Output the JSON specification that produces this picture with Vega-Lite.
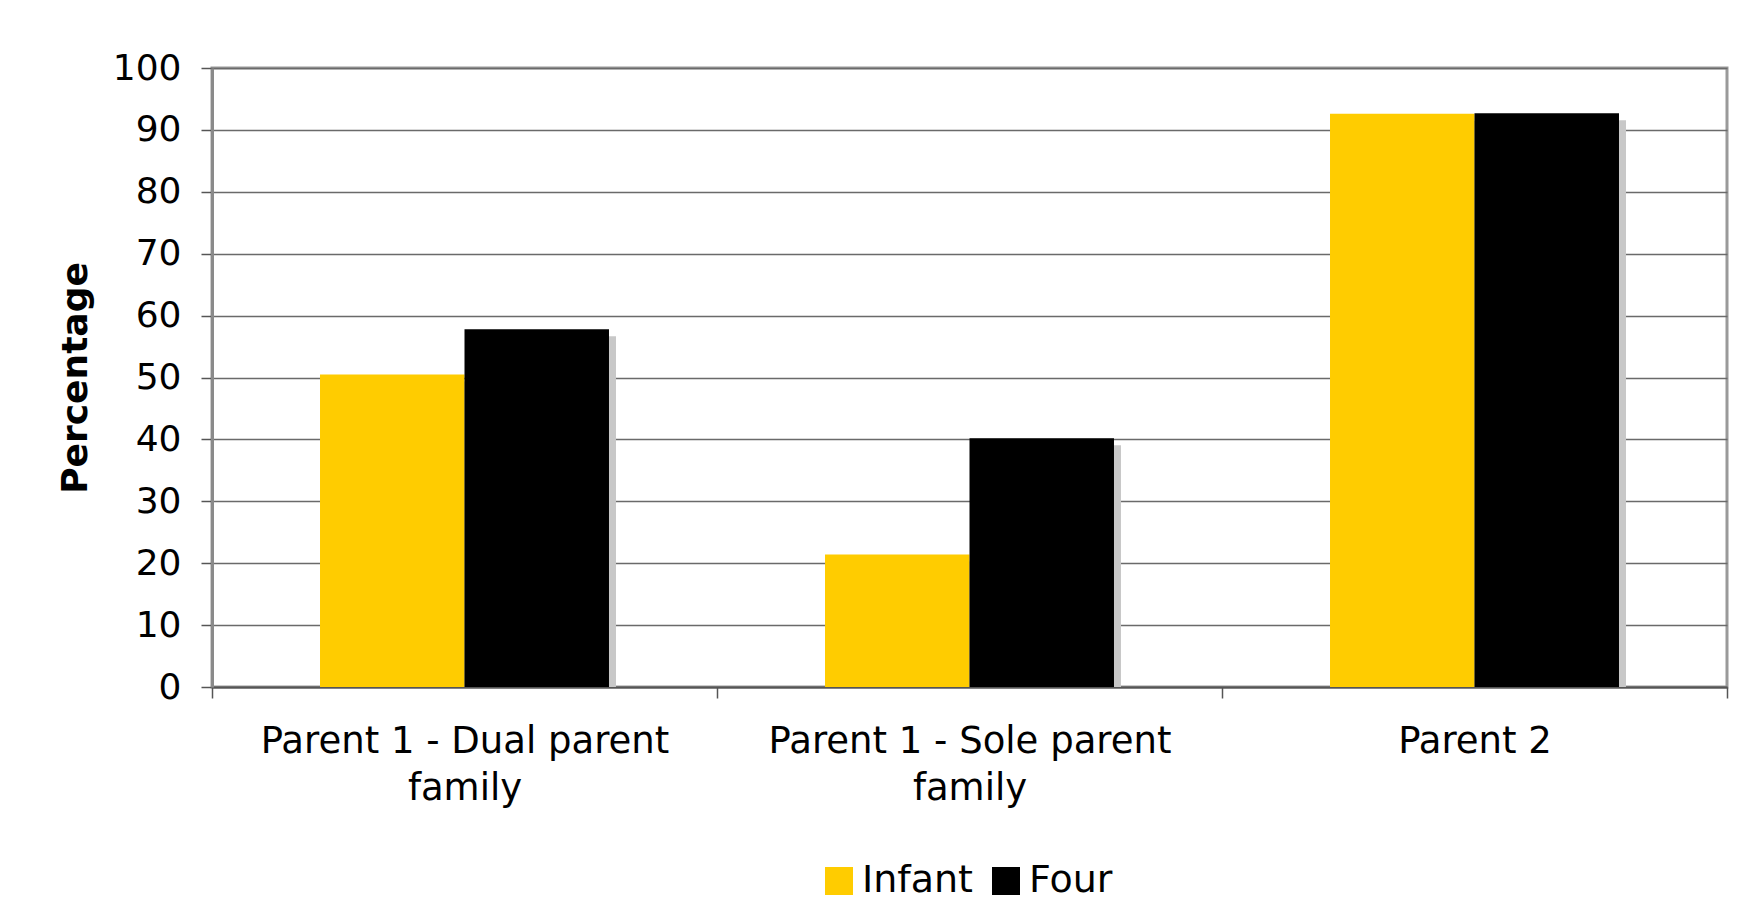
{
  "$schema": "https://vega.github.io/schema/vega-lite/v6.json",
  "autosize": "none",
  "width": 1515,
  "height": 619,
  "padding": {"left": 212, "top": 68, "right": 22, "bottom": 227},
  "background": "#ffffff",
  "data": {
    "values": [
      {"group": "Parent 1 - Dual parent family", "age": "Infant", "pct": 50.5},
      {"group": "Parent 1 - Dual parent family", "age": "Four", "pct": 57.8},
      {"group": "Parent 1 - Sole parent family", "age": "Infant", "pct": 21.4},
      {"group": "Parent 1 - Sole parent family", "age": "Four", "pct": 40.2},
      {"group": "Parent 2", "age": "Infant", "pct": 92.6},
      {"group": "Parent 2", "age": "Four", "pct": 92.7}
    ]
  },
  "encoding": {
    "x": {
      "field": "group",
      "type": "nominal",
      "sort": null,
      "scale": {"paddingInner": 0, "paddingOuter": 0},
      "axis": {
        "title": null,
        "labelAngle": 0,
        "labelFont": "DejaVu Sans",
        "labelFontSize": 37,
        "labelColor": "#000000",
        "labelLineHeight": 47,
        "labelPadding": 25,
        "labelLimit": 0,
        "labelExpr": "indexof(datum.label, ' family') > 0 ? [replace(datum.label, ' family', ''), 'family'] : datum.label",
        "tickBand": "extent",
        "tickSize": 11,
        "tickColor": "#555555",
        "tickWidth": 1.5,
        "domainColor": "#555555",
        "domainWidth": 2,
        "grid": false
      }
    },
    "y": {
      "field": "pct",
      "type": "quantitative",
      "scale": {"domain": [0, 100], "nice": false},
      "axis": {
        "title": "Percentage",
        "titleFont": "DejaVu Sans",
        "titleFontSize": 36,
        "titleFontWeight": "bold",
        "titleColor": "#000000",
        "titlePadding": 18,
        "values": [0, 10, 20, 30, 40, 50, 60, 70, 80, 90, 100],
        "labelFont": "DejaVu Sans",
        "labelFontSize": 36,
        "labelColor": "#000000",
        "labelPadding": 20,
        "tickSize": 11,
        "tickColor": "#555555",
        "tickWidth": 1.5,
        "domainColor": "#8a8a8a",
        "domainWidth": 3,
        "grid": true,
        "gridColor": "#6a6a6a",
        "gridWidth": 1.5
      }
    }
  },
  "resolve": {"scale": {"xOffset": "independent"}},
  "layer": [
    {
      "mark": {"type": "bar", "color": "#c8c8c8", "yOffset": 7, "clip": true},
      "encoding": {
        "xOffset": {
          "field": "age",
          "type": "nominal",
          "sort": ["Infant", "Four"],
          "scale": {"range": [7, 512], "paddingInner": 0, "paddingOuter": 0.7475}
        }
      }
    },
    {
      "mark": {"type": "bar"},
      "encoding": {
        "xOffset": {
          "field": "age",
          "type": "nominal",
          "sort": ["Infant", "Four"],
          "scale": {"paddingInner": 0, "paddingOuter": 0.7475}
        },
        "color": {
          "field": "age",
          "type": "nominal",
          "sort": ["Infant", "Four"],
          "scale": {"domain": ["Infant", "Four"], "range": ["#FFCC00", "#000000"]},
          "legend": {
            "title": null,
            "orient": "none",
            "direction": "horizontal",
            "legendX": 608,
            "legendY": 794,
            "symbolType": "square",
            "symbolSize": 784,
            "symbolStrokeWidth": 0,
            "symbolOpacity": 1,
            "labelFont": "DejaVu Sans",
            "labelFontSize": 38,
            "labelColor": "#000000",
            "labelOffset": 4,
            "columnPadding": 14
          }
        }
      }
    }
  ],
  "config": {
    "view": {"stroke": "#9a9a9a", "strokeWidth": 3},
    "font": "DejaVu Sans"
  }
}
